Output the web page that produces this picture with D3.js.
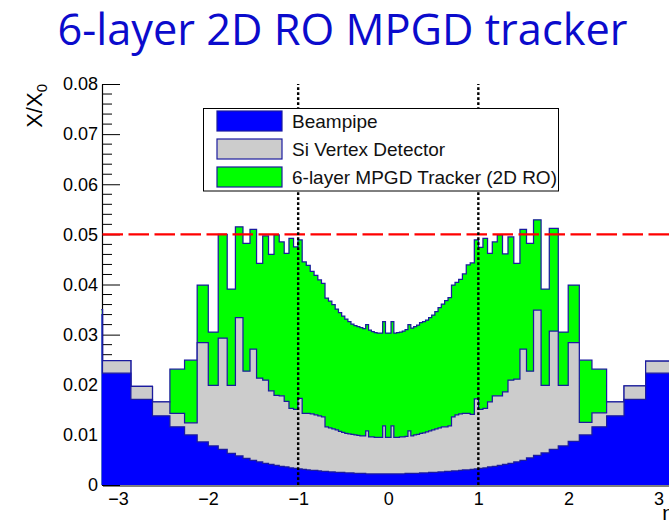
<!DOCTYPE html>
<html>
<head>
<meta charset="utf-8">
<script src="https://cdn.jsdelivr.net/npm/d3@7"></script>
<style>
  html, body { margin: 0; padding: 0; background: #ffffff; }
  svg { display: block; }
</style>
</head>
<body>
<svg id="chart" width="669" height="522"></svg>
<script>
// ---- Binning of the material scan: uniform bins in polar angle (degrees) ----
const thetaStartDeg = 3.025;
const thetaBinDeg = 1.775;
const nThetaBins = 98;

// ---- Radiation length X/X0 per bin, ordered by increasing pseudorapidity ----
const beampipe = [
  0.0340,
  0.0223, 0.0171, 0.0138, 0.0116, 0.0100, 0.0086, 0.0078, 0.0071, 0.0063, 0.0058,
  0.0053, 0.0049, 0.0046, 0.0043, 0.0041, 0.0039, 0.0037, 0.0036, 0.0034, 0.0033,
  0.0032, 0.0031, 0.0030, 0.0029, 0.0029, 0.0028, 0.0027, 0.0027, 0.0026, 0.0026,
  0.0025, 0.0025, 0.0025, 0.0024, 0.0024, 0.0024, 0.0023, 0.0023, 0.0023, 0.0023,
  0.0022, 0.0022, 0.0022, 0.0022, 0.0022, 0.0022, 0.0022, 0.0022, 0.0022, 0.0022,
  0.0022, 0.0022, 0.0022, 0.0022, 0.0023, 0.0023, 0.0023, 0.0023, 0.0023, 0.0024,
  0.0024, 0.0024, 0.0025, 0.0025, 0.0025, 0.0026, 0.0026, 0.0027, 0.0027, 0.0028,
  0.0028, 0.0029, 0.0030, 0.0030, 0.0031, 0.0032, 0.0033, 0.0034, 0.0036, 0.0037,
  0.0039, 0.0041, 0.0043, 0.0046, 0.0049, 0.0054, 0.0059, 0.0064, 0.0071, 0.0078,
  0.0087, 0.0100, 0.0116, 0.0138, 0.0171, 0.0223,
  0.0340
];

const siVertex = [
  0.0010,
  0.0025, 0.0026, 0.0028, 0.0027, 0.0024, 0.0198, 0.0121, 0.0222, 0.0136, 0.0276,
  0.0174, 0.0222, 0.0167, 0.0166, 0.0147, 0.0140, 0.0141, 0.0131, 0.0119, 0.0118,
  0.0141, 0.0112, 0.0113, 0.0113, 0.0111, 0.0110, 0.0109, 0.0089, 0.0088, 0.0086,
  0.0085, 0.0082, 0.0080, 0.0079, 0.0078, 0.0077, 0.0077, 0.0076, 0.0075, 0.0075,
  0.0086, 0.0074, 0.0074, 0.0073, 0.0073, 0.0073, 0.0096, 0.0073, 0.0073, 0.0096,
  0.0073, 0.0073, 0.0074, 0.0074, 0.0074, 0.0085, 0.0075, 0.0077, 0.0078, 0.0079,
  0.0080, 0.0082, 0.0083, 0.0085, 0.0087, 0.0088, 0.0090, 0.0089, 0.0091, 0.0108,
  0.0112, 0.0113, 0.0113, 0.0113, 0.0110, 0.0140, 0.0118, 0.0119, 0.0130, 0.0141,
  0.0139, 0.0145, 0.0166, 0.0165, 0.0222, 0.0173, 0.0290, 0.0135, 0.0236, 0.0121,
  0.0197, 0.0025, 0.0028, 0.0028, 0.0027, 0.0024,
  0.0010
];

const mpgdTracker = [
  0.0000,
  0.0000, 0.0000, 0.0000, 0.0088, 0.0125, 0.0115, 0.0106, 0.0207, 0.0192, 0.0181,
  0.0255, 0.0239, 0.0229, 0.0288, 0.0272, 0.0320, 0.0307, 0.0295, 0.0339, 0.0324,
  0.0316, 0.0302, 0.0295, 0.0284, 0.0278, 0.0271, 0.0266, 0.0257, 0.0253, 0.0248,
  0.0241, 0.0237, 0.0232, 0.0228, 0.0224, 0.0220, 0.0218, 0.0217, 0.0216, 0.0214,
  0.0212, 0.0213, 0.0210, 0.0209, 0.0208, 0.0208, 0.0208, 0.0208, 0.0208, 0.0208,
  0.0208, 0.0209, 0.0209, 0.0211, 0.0213, 0.0212, 0.0215, 0.0216, 0.0218, 0.0221,
  0.0222, 0.0223, 0.0226, 0.0229, 0.0234, 0.0240, 0.0245, 0.0252, 0.0256, 0.0263,
  0.0264, 0.0268, 0.0278, 0.0296, 0.0302, 0.0317, 0.0323, 0.0339, 0.0296, 0.0307,
  0.0321, 0.0275, 0.0286, 0.0231, 0.0239, 0.0255, 0.0180, 0.0192, 0.0205, 0.0106,
  0.0115, 0.0124, 0.0087, 0.0000, 0.0000, 0.0000,
  0.0000
];

// ---- Axes, reference lines and labels ----
const etaRange = [-3.172, 3.172];
const yRange = [0, 0.08];
const yTicks = [0, 0.01, 0.02, 0.03, 0.04, 0.05, 0.06, 0.07, 0.08];
const xTicks = [-3, -2, -1, 0, 1, 2, 3];
const materialLimit = 0.05;
const barrelEdges = [-1, 1];
const seriesKeys = ["beampipe", "siVertex", "mpgd"];
const seriesNames = ["Beampipe", "Si Vertex Detector", "6-layer MPGD Tracker (2D RO)"];
const seriesColors = ["#0000ff", "#cccccc", "#00ff00"];
const titleText = "6-layer 2D RO MPGD tracker";

// ---- Layout ----
const svg = d3.select("#chart");
const plotLeft = 102.5, plotRight = 674, plotTop = 84, plotBottom = 485;
const axisFont = "'Liberation Sans', Arial, Helvetica, sans-serif";
const outline = "#1b1b9e";

svg.append("rect").attr("width", 669).attr("height", 522).attr("fill", "#ffffff");

const x = d3.scaleLinear().domain(etaRange).range([plotLeft, plotRight]);
const y = d3.scaleLinear().domain(yRange).range([plotBottom, plotTop]);

// Bin edges in eta (ascending)
const etaEdges = d3.range(nThetaBins + 1)
  .map(i => -Math.log(Math.tan((thetaStartDeg + i * thetaBinDeg) * Math.PI / 360)))
  .reverse();

const rows = beampipe.map((b, i) => ({
  x0: etaEdges[i], x1: etaEdges[i + 1],
  beampipe: b, siVertex: siVertex[i], mpgd: mpgdTracker[i]
}));
const stacked = d3.stack().keys(seriesKeys)(rows);

// ---- Title ----
const title = svg.append("text")
  .attr("x", 342.5).attr("y", 45)
  .attr("text-anchor", "middle")
  .attr("fill", "#0b0bcc")
  .style("font-family", "'Open Sans', Lato, sans-serif")
  .style("font-size", "40px")
  .text(titleText);
const tl = title.node().getComputedTextLength();
title.style("font-size", (40 * 570 / tl).toFixed(2) + "px");

// ---- Y axis (line, ticks, labels) drawn beneath the histograms ----
const minorTicks = d3.range(0, 0.0801, 0.002).filter(v => Math.abs(Math.round(v * 100) - v * 100) > 1e-6);
svg.append("g").selectAll("line").data(minorTicks).join("line")
  .attr("x1", plotLeft - 0.5).attr("x2", plotLeft + 9.5)
  .attr("y1", d => y(d)).attr("y2", d => y(d))
  .attr("stroke", "#000").attr("stroke-width", 1);

const yAxis = svg.append("g")
  .attr("transform", `translate(${plotLeft - 0.5},0)`)
  .call(d3.axisLeft(y).tickValues(yTicks).tickSizeInner(-18).tickSizeOuter(0).tickPadding(4)
    .tickFormat(d => d === 0 ? "0" : d3.format(".2f")(d)));
yAxis.select(".domain").attr("stroke", "#000").attr("stroke-width", 1.2);
yAxis.selectAll(".tick line").attr("stroke", "#000").attr("stroke-width", 1);
yAxis.selectAll("text").style("font-family", axisFont).style("font-size", "18px").attr("fill", "#000");

// ---- Stacked histograms ----
const clip = svg.append("clipPath").attr("id", "plotclip");
clip.append("rect").attr("x", plotLeft - 1).attr("y", plotTop - 10)
  .attr("width", plotRight - plotLeft + 10).attr("height", plotBottom - plotTop + 10.5);

const histG = svg.append("g").attr("clip-path", "url(#plotclip)");
const stepArea = d3.area().curve(d3.curveStepAfter)
  .x(d => x(d[0])).y0(y(0)).y1(d => y(d[1]));
const stepLine = d3.line().curve(d3.curveStepAfter)
  .x(d => x(d[0])).y(d => y(d[1]));

for (let L = stacked.length - 1; L >= 0; L--) {
  const layer = stacked[L];
  const pts = rows.map((r, i) => [r.x0, layer[i][1]]);
  pts.push([rows[rows.length - 1].x1, layer[rows.length - 1][1]]);
  histG.append("path").attr("d", stepArea(pts)).attr("fill", seriesColors[L]).attr("stroke", "none");
  histG.append("path").attr("d", stepLine(pts)).attr("fill", "none")
    .attr("stroke", outline).attr("stroke-width", 1.25).attr("stroke-linejoin", "miter");
}

// ---- X axis ----
const xAxis = svg.append("g")
  .attr("transform", `translate(0,${plotBottom + 0.5})`)
  .call(d3.axisBottom(x).tickValues(xTicks).tickSizeInner(0).tickSizeOuter(0).tickPadding(0)
    .tickFormat(d3.format("d")));
xAxis.select(".domain").attr("stroke", "#000").attr("stroke-width", 1.2);
xAxis.selectAll("text").attr("dy", null).attr("y", 19)
  .style("font-family", axisFont).style("font-size", "18px").attr("fill", "#000");

svg.append("text")
  .attr("x", plotRight).attr("y", 520).attr("text-anchor", "end")
  .style("font-family", axisFont).style("font-size", "21px").attr("fill", "#000")
  .text("η");

// Y axis title
const yt = svg.append("text")
  .attr("transform", `translate(42,${plotTop}) rotate(-90)`)
  .attr("text-anchor", "end")
  .style("font-family", axisFont).style("font-size", "22px").attr("fill", "#000");
yt.append("tspan").text("X/X");
yt.append("tspan").attr("dy", 5).style("font-size", "15px").text("0");

// ---- Reference lines ----
svg.append("line")
  .attr("x1", plotLeft).attr("x2", plotRight)
  .attr("y1", y(materialLimit)).attr("y2", y(materialLimit))
  .attr("stroke", "#ff0000").attr("stroke-width", 2.2)
  .attr("stroke-dasharray", "20.5,5.5");

svg.append("g").selectAll("line").data(barrelEdges).join("line")
  .attr("x1", d => x(d)).attr("x2", d => x(d))
  .attr("y1", y(0)).attr("y2", y(yRange[1]))
  .attr("stroke", "#000").attr("stroke-width", 2.4)
  .attr("stroke-dasharray", "2.8,2.2");

// ---- Legend ----
const legend = svg.append("g");
legend.append("rect")
  .attr("x", 203.5).attr("y", 108.5).attr("width", 355).attr("height", 82.5)
  .attr("fill", "#ffffff").attr("stroke", "#000").attr("stroke-width", 1);
const rowCenters = [121, 149, 177];
seriesNames.forEach((name, i) => {
  legend.append("rect")
    .attr("x", 217).attr("y", rowCenters[i] - 10).attr("width", 65).attr("height", 20)
    .attr("fill", seriesColors[i]).attr("stroke", outline).attr("stroke-width", 1.2);
  legend.append("text")
    .attr("x", 292).attr("y", rowCenters[i] + 6.8)
    .style("font-family", axisFont).style("font-size", "19px").attr("fill", "#111")
    .text(name);
});
</script>
</body>
</html>
